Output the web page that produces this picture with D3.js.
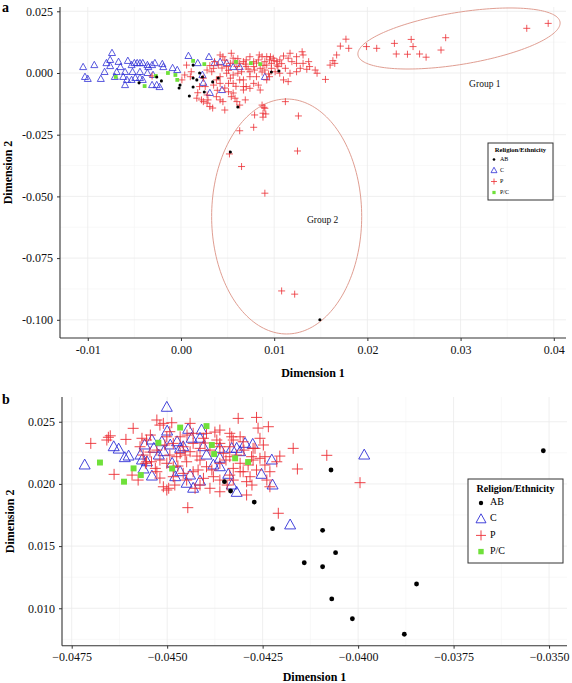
<!DOCTYPE html>
<html><head><meta charset="utf-8">
<script src="https://cdn.jsdelivr.net/npm/d3@7"></script>
<style>
body{margin:0;background:#fff;}
svg{display:block;}
text{font-family:"Liberation Serif","Times New Roman",serif;}
</style></head>
<body>
<svg id="chart" width="572" height="683"></svg>
<script>
// ---------- DATA ----------
const categories = ["AB","C","P","P/C"];

// Panel a
const aXTicks = [-0.01,0,0.01,0.02,0.03,0.04];
const aYTicks = [0.025,0,-0.025,-0.05,-0.075,-0.1];
const aAB = [[-0.0045,-0.0040],[-0.0026,-0.0016],[-0.0021,-0.0032],[-0.0001,-0.0049],[-0.0002,-0.0061],[0.0009,-0.0093],[0.0013,-0.0020],[0.0013,0.0032],[0.0013,-0.0057],[0.0017,-0.0028],[0.0020,0.0000],[0.0023,-0.0016],[0.0025,-0.0077],[0.0034,-0.0036],[0.0040,-0.0020],[0.0061,-0.0138],[0.0097,0.0004],[0.0105,0.0008],[0.0053,-0.0320],[0.0149,-0.1000]];
const aC = [[-0.0105,0.0024],[-0.0093,0.0032],[-0.0103,-0.0016],[-0.0100,-0.0024],[-0.0086,-0.0024],[-0.0082,0.0004],[-0.0080,0.0040],[-0.0076,0.0053],[-0.0074,0.0081],[-0.0076,0.0028],[-0.0067,0.0045],[-0.0065,0.0024],[-0.0057,0.0049],[-0.0053,0.0032],[-0.0050,0.0040],[-0.0047,0.0040],[-0.0044,0.0040],[-0.0041,0.0040],[-0.0036,0.0032],[-0.0035,0.0024],[-0.0031,0.0032],[-0.0028,0.0040],[-0.0020,0.0036],[-0.0019,0.0024],[-0.0062,-0.0016],[-0.0058,-0.0028],[-0.0053,-0.0028],[-0.0049,-0.0020],[-0.0044,-0.0020],[-0.0041,-0.0028],[-0.0060,-0.0049],[-0.0036,0.0000],[-0.0031,-0.0049],[-0.0026,-0.0049],[-0.0023,-0.0057],[-0.0030,-0.0008],[-0.0009,0.0020],[-0.0004,0.0012],[0.0008,0.0069],[0.0018,0.0040],[0.0030,0.0065],[0.0036,0.0040],[0.0042,0.0045],[0.0049,0.0040],[0.0056,0.0024],[0.0063,0.0024],[0.0044,-0.0069],[0.0031,-0.0081],[0.0090,-0.0016],[-0.0060,0.0004],[-0.0052,0.0004],[-0.0044,0.0004],[-0.0071,-0.0016],[-0.0069,0.0004],[0.0023,-0.0008],[0.0024,-0.0040]];
const aP = [[0.0177,0.0137],[0.0171,0.0109],[0.0180,0.0100],[0.0167,0.0073],[0.0163,0.0050],[0.0165,0.0039],[0.0160,0.0032],[0.0155,-0.0026],[0.0146,-0.0001],[0.0138,0.0026],[0.0137,0.0046],[0.0130,0.0086],[0.0131,0.0073],[0.0124,0.0066],[0.0117,0.0080],[0.0115,0.0060],[0.0110,0.0069],[0.0106,0.0053],[0.0103,0.0046],[0.0099,0.0060],[0.0095,0.0053],[0.0092,0.0066],[0.0090,0.0046],[0.0087,0.0066],[0.0083,0.0053],[0.0078,0.0046],[0.0074,0.0066],[0.0070,0.0053],[0.0067,0.0046],[0.0063,0.0039],[0.0060,0.0026],[0.0056,0.0060],[0.0054,0.0080],[0.0053,0.0039],[0.0049,0.0026],[0.0045,0.0066],[0.0042,0.0073],[0.0040,0.0032],[0.0036,0.0046],[0.0035,0.0019],[0.0033,0.0005],[0.0028,0.0012],[0.0024,-0.0021],[0.0026,-0.0055],[0.0029,-0.0109],[0.0038,-0.0096],[0.0045,-0.0116],[0.0047,-0.0150],[0.0051,-0.0076],[0.0054,-0.0096],[0.0058,-0.0102],[0.0060,-0.0116],[0.0063,-0.0130],[0.0067,-0.0069],[0.0070,-0.0055],[0.0074,-0.0062],[0.0078,-0.0042],[0.0083,-0.0049],[0.0085,-0.0069],[0.0092,-0.0028],[0.0095,-0.0015],[0.0101,0.0005],[0.0106,-0.0001],[0.0110,-0.0028],[0.0115,-0.0035],[0.0117,-0.0001],[0.0124,0.0005],[0.0128,0.0019],[0.0135,0.0015],[0.0144,0.0012],[0.0124,0.0039],[0.0131,0.0039],[0.0112,0.0019],[0.0104,0.0026],[0.0097,0.0019],[0.0090,0.0012],[0.0085,0.0019],[0.0079,0.0012],[0.0074,0.0005],[0.0070,0.0026],[0.0065,0.0005],[0.0061,-0.0001],[0.0056,-0.0008],[0.0053,-0.0021],[0.0049,-0.0001],[0.0042,-0.0015],[0.0038,-0.0028],[0.0035,-0.0049],[0.0028,-0.0089],[0.0022,-0.0109],[0.0074,-0.0015],[0.0081,-0.0015],[0.0078,0.0026],[0.0092,0.0032],[0.0097,0.0039],[0.0103,0.0032],[0.0063,-0.0028],[0.0056,-0.0042],[0.0051,-0.0042],[0.0067,-0.0028],[0.0042,-0.0042],[0.0112,-0.0116],[0.0090,-0.0143],[0.0088,-0.0163],[0.0087,-0.0130],[0.0069,-0.0109],[0.0006,0.0032],[0.0011,0.0005],[0.0017,-0.0102],[0.0024,-0.0116],[0.0028,-0.0122],[0.0031,-0.0136],[0.0034,-0.0142],[0.0042,-0.0109],[0.0020,-0.0055],[0.0018,-0.0080],[0.0004,-0.0008],[0.0001,-0.0028],[0.0010,-0.0015],[-0.0031,-0.0012],[0.0056,-0.0081],[0.0067,-0.0055],[0.0394,0.0201],[0.0371,0.0181],[0.0284,0.0143],[0.0279,0.0093],[0.0263,0.0064],[0.0256,0.0077],[0.0243,0.0076],[0.0231,0.0077],[0.0249,0.0107],[0.0247,0.0136],[0.0229,0.0120],[0.0210,0.0100],[0.0199,0.0107],[0.0089,-0.0139],[0.0079,-0.0170],[0.0091,-0.0166],[0.0088,-0.0179],[0.0078,-0.0220],[0.0063,-0.0234],[0.0126,-0.0174],[0.0125,-0.0316],[0.0052,-0.0328],[0.0065,-0.0379],[0.0090,-0.0487],[0.0108,-0.0883],[0.0122,-0.0896],[0.0047,0.0052],[0.0058,0.0044],[0.0069,0.0036],[0.0081,0.0040],[0.0088,0.0030],[0.0100,0.0050],[0.0108,0.0038],[0.0119,0.0046],[0.0096,0.0066],[0.0084,0.0073],[0.0061,0.0058],[0.0051,0.0011],[0.0044,0.0020],[0.0031,0.0030],[0.0072,0.0016],[0.0087,0.0004],[0.0094,-0.0004],[0.0059,-0.0054],[0.0047,-0.0061],[0.0039,-0.0070]];
const aPC = [[-0.0070,-0.0016],[-0.0039,-0.0053],[-0.0027,-0.0012],[-0.0014,0.0000],[-0.0006,-0.0008],[-0.0004,-0.0028],[0.0013,0.0049],[0.0025,0.0036],[0.0059,0.0045],[0.0075,0.0040],[0.0085,0.0036]];
// ellipses (data units): center, axis vectors
const group1 = {label:"Group 1", cx:0.02983, cy:0.01398, ux:0.01084, uy:0.00669, vx:0.00045, vy:-0.0104, tx:0.0326, ty:-0.0049};
const group2 = {label:"Group 2", cx:0.01134, cy:-0.05814, ux:0.00805, uy:0, vx:0, vy:0.0476, tx:0.0152, ty:-0.0600};

// Panel b
const bXTicks = [-0.0475,-0.045,-0.0425,-0.04,-0.0375,-0.035];
const bYTicks = [0.01,0.015,0.02,0.025];
const bAB = [[-0.03515,0.02267],[-0.04071,0.02112],[-0.04350,0.02018],[-0.04334,0.01943],[-0.04272,0.01854],[-0.04224,0.0164],[-0.04093,0.01627],[-0.04059,0.01447],[-0.04141,0.01366],[-0.04093,0.01334],[-0.03847,0.01195],[-0.04069,0.01075],[-0.04015,0.00916],[-0.03879,0.00791]];
const bC = [[-0.04716,0.02152],[-0.0464,0.02299],[-0.04627,0.0228],[-0.04611,0.02211],[-0.04601,0.02224],[-0.0457,0.02232],[-0.04566,0.02192],[-0.04559,0.02313],[-0.0454,0.02353],[-0.04535,0.02286],[-0.04514,0.02339],[-0.04509,0.02259],[-0.04522,0.02232],[-0.04492,0.02313],[-0.04474,0.02339],[-0.04466,0.02286],[-0.04501,0.02616],[-0.045,0.02425],[-0.0454,0.02063],[-0.04553,0.02178],[-0.04487,0.02166],[-0.04479,0.02058],[-0.04466,0.02098],[-0.04562,0.0212],[-0.04445,0.02439],[-0.0441,0.02433],[-0.04436,0.02367],[-0.04414,0.02367],[-0.04362,0.02286],[-0.04331,0.02286],[-0.04318,0.02286],[-0.04296,0.02326],[-0.04276,0.02318],[-0.04226,0.02192],[-0.04253,0.02077],[-0.04224,0.01991],[-0.04318,0.01932],[-0.04331,0.01991],[-0.0434,0.02077],[-0.04414,0.02023],[-0.04432,0.01965],[-0.0444,0.02071],[-0.04449,0.02005],[-0.04362,0.02138],[-0.04379,0.02152],[-0.04397,0.02232],[-0.04362,0.02206],[-0.04309,0.02259],[-0.04405,0.02299],[-0.04458,0.02299],[-0.03984,0.02232],[-0.04178,0.0167]];
const bP = [[-0.0470,0.02326],[-0.04654,0.02375],[-0.04658,0.02353],[-0.04608,0.02358],[-0.04589,0.02447],[-0.04639,0.02077],[-0.04576,0.02031],[-0.04446,0.01809],[-0.0451,0.02487],[-0.04488,0.02492],[-0.0444,0.02487],[-0.0451,0.01977],[-0.04501,0.01951],[-0.0448,0.01991],[-0.04427,0.01965],[-0.04388,0.01965],[-0.04362,0.01937],[-0.04314,0.02527],[-0.04266,0.02535],[-0.04235,0.0246],[-0.04362,0.02433],[-0.04336,0.02407],[-0.04309,0.02379],[-0.04209,0.01764],[-0.04205,0.02224],[-0.04239,0.02031],[-0.04283,0.02058],[-0.04288,0.02152],[-0.04309,0.02098],[-0.04336,0.02071],[-0.04414,0.02192],[-0.04449,0.02178],[-0.04475,0.02219],[-0.04519,0.02192],[-0.04527,0.02272],[-0.04563,0.02232],[-0.04554,0.02178],[-0.04527,0.02098],[-0.04484,0.02058],[-0.04458,0.02085],[-0.04432,0.02098],[-0.04397,0.02138],[-0.04362,0.02166],[-0.04327,0.02125],[-0.04275,0.02286],[-0.04301,0.02339],[-0.04336,0.02299],[-0.0437,0.02353],[-0.04405,0.02367],[-0.04432,0.02326],[-0.04458,0.02299],[-0.04484,0.02326],[-0.04501,0.02379],[-0.04466,0.02379],[-0.04432,0.02407],[-0.04397,0.02407],[-0.04519,0.02473],[-0.04493,0.0242],[-0.04554,0.02353],[-0.04571,0.02299],[-0.04541,0.02178],[-0.04388,0.02272],[-0.04353,0.02246],[-0.04318,0.02232],[-0.04275,0.02192],[-0.04257,0.02206],[-0.04244,0.02152],[-0.04266,0.02112],[-0.04292,0.02018],[-0.04362,0.02031],[-0.04379,0.02058],[-0.04405,0.02045],[-0.04449,0.02031],[-0.04484,0.02138],[-0.04501,0.02166],[-0.04466,0.02246],[-0.0444,0.02259],[-0.04414,0.02286],[-0.04362,0.02299],[-0.04327,0.02353],[-0.0417,0.02286],[-0.04159,0.0212],[-0.04082,0.0223],[-0.03995,0.0201],[-0.04231,0.01977],[-0.04213,0.02178],[-0.04248,0.02313],[-0.04257,0.02367],[-0.04327,0.02031],[-0.04309,0.02166],[-0.04336,0.02219],[-0.04362,0.02326],[-0.04331,0.02379],[-0.0427,0.02286],[-0.04279,0.02219],[-0.04301,0.02098],[-0.04231,0.02098],[-0.04244,0.02219],[-0.04649,0.02387],[-0.04527,0.02514],[-0.04496,0.01965],[-0.04557,0.02166],[-0.04592,0.02071],[-0.04531,0.02125],[-0.04566,0.02367],[-0.04544,0.02393],[-0.04414,0.01991],[-0.04292,0.01911],[-0.04506,0.02313],[-0.04448,0.02393],[-0.04422,0.02224],[-0.04383,0.02112],[-0.04346,0.02192],[-0.04299,0.02272],[-0.04472,0.02144],[-0.04519,0.02047],[-0.04401,0.02329],[-0.04375,0.02417],[-0.04453,0.02232],[-0.04262,0.02449],[-0.04278,0.01991],[-0.04343,0.01991],[-0.04419,0.02112],[-0.04493,0.02232],[-0.04545,0.02256]];
const bPC = [[-0.04676,0.02172],[-0.04613,0.02018],[-0.04588,0.02125],[-0.04569,0.02071],[-0.04523,0.02331],[-0.04466,0.02453],[-0.04397,0.02465],[-0.04377,0.0224],[-0.04322,0.02206],[-0.04288,0.02176],[-0.04487,0.02124],[-0.04383,0.02313]];

// ---------- DRAW ----------
const svg = d3.select("#chart");
const COL = {AB:"#000000", C:"#2f2fd6", P:"#ec2e34", "P/C":"#6fe03a"};
const hy = s => s.replace(/\u2212/g,"-");

function drawMarker(g, cat, x, y, s, sw){
  if(cat==="AB"){
    g.append("circle").attr("cx",x).attr("cy",y).attr("r",s*0.22).attr("fill",COL.AB);
  } else if(cat==="C"){
    const h = s*0.9, w = s*1.0;
    g.append("path").attr("d",`M${x},${y-h*0.6}L${x+w/2},${y+h*0.4}L${x-w/2},${y+h*0.4}Z`)
      .attr("fill","none").attr("stroke",COL.C).attr("stroke-width",sw);
  } else if(cat==="P"){
    const a = s*0.5;
    g.append("path").attr("d",`M${x-a},${y}H${x+a}M${x},${y-a}V${y+a}`)
      .attr("fill","none").attr("stroke",COL.P).attr("stroke-width",sw);
  } else {
    const a = s*0.27;
    g.append("rect").attr("x",x-a).attr("y",y-a).attr("width",2*a).attr("height",2*a).attr("fill",COL["P/C"]);
  }
}

function panel(cfg){
  const g = svg.append("g");
  const x = d3.scaleLinear().domain(cfg.xDom).range([cfg.left,cfg.right]);
  const y = d3.scaleLinear().domain(cfg.yDom).range([cfg.bottom,cfg.top]);
  // grid
  const grid = g.append("g");
  const xt = cfg.xTicks, yt = cfg.yTicks;
  const dx = xt[1]-xt[0];
  const xMinor = [], yMinor = [];
  for(let i=-1;i<=xt.length;i++){ const v = xt[0]+dx*(i+0.5); if(v>cfg.xDom[0]&&v<cfg.xDom[1]) xMinor.push(v); }
  const ys = yt.slice().sort((a,b)=>a-b), ddy = ys[1]-ys[0];
  for(let i=-1;i<=ys.length;i++){ const v = ys[0]+ddy*(i+0.5); if(v>cfg.yDom[0]&&v<cfg.yDom[1]) yMinor.push(v); }
  grid.selectAll(".vm").data(xMinor).join("line").attr("x1",d=>x(d)).attr("x2",d=>x(d)).attr("y1",cfg.top).attr("y2",cfg.bottom).attr("stroke","#f4f4f4").attr("stroke-width",0.6);
  grid.selectAll(".hm").data(yMinor).join("line").attr("y1",d=>y(d)).attr("y2",d=>y(d)).attr("x1",cfg.left).attr("x2",cfg.right).attr("stroke","#f4f4f4").attr("stroke-width",0.6);
  grid.selectAll(".vM").data(xt).join("line").attr("x1",d=>x(d)).attr("x2",d=>x(d)).attr("y1",cfg.top).attr("y2",cfg.bottom).attr("stroke","#ebebeb").attr("stroke-width",0.8);
  grid.selectAll(".hM").data(yt).join("line").attr("y1",d=>y(d)).attr("y2",d=>y(d)).attr("x1",cfg.left).attr("x2",cfg.right).attr("stroke","#ebebeb").attr("stroke-width",0.8);

  // ellipses
  (cfg.ellipses||[]).forEach(e=>{
    const ts = d3.range(0, 2*Math.PI+0.001, Math.PI/90);
    const line = d3.line().x(t=>x(e.cx+Math.cos(t)*e.ux+Math.sin(t)*e.vx)).y(t=>y(e.cy+Math.cos(t)*e.uy+Math.sin(t)*e.vy));
    g.append("path").attr("d",line(ts)).attr("fill","none").attr("stroke","#e09e92").attr("stroke-width",1);
    g.append("text").attr("x",x(e.tx)).attr("y",y(e.ty)).attr("text-anchor","middle").attr("dominant-baseline","middle")
      .attr("font-size",9.5).attr("fill","#111").text(e.label);
  });

  // points
  const pts = g.append("g");
  const series = [["C",cfg.C],["P",cfg.P],["P/C",cfg.PC],["AB",cfg.AB]];
  series.forEach(([cat,arr])=>{
    arr.forEach(d=>drawMarker(pts,cat,x(d[0]),y(d[1]),cfg.ms,cfg.sw));
  });

  // axes
  const xa = d3.axisBottom(x).tickValues(xt).tickSize(3).tickPadding(4).tickFormat(d=>cfg.xFmt(d));
  const ya = d3.axisLeft(y).tickValues(yt).tickSize(3).tickPadding(4).tickFormat(d=>cfg.yFmt(d));
  const gx = g.append("g").attr("transform",`translate(0,${cfg.bottom})`).call(xa);
  const gy = g.append("g").attr("transform",`translate(${cfg.left},0)`).call(ya);
  [gx,gy].forEach(ax=>{
    ax.select(".domain").remove();
    ax.selectAll("line").attr("stroke","#333");
    ax.selectAll("text").attr("font-family","Liberation Serif").attr("font-size",12).attr("fill","#111");
  });
  g.append("line").attr("x1",cfg.left).attr("x2",cfg.right).attr("y1",cfg.bottom).attr("y2",cfg.bottom).attr("stroke","#333").attr("stroke-width",1.1);
  g.append("line").attr("x1",cfg.left).attr("x2",cfg.left).attr("y1",cfg.top).attr("y2",cfg.bottom).attr("stroke","#333").attr("stroke-width",1.1);

  // titles
  g.append("text").attr("x",(cfg.left+cfg.right)/2).attr("y",cfg.xTitleY).attr("text-anchor","middle")
    .attr("font-weight","bold").attr("font-size",12).text("Dimension 1");
  g.append("text").attr("transform",`translate(${cfg.yTitleX},${(cfg.top+cfg.bottom)/2}) rotate(-90)`).attr("text-anchor","middle")
    .attr("font-weight","bold").attr("font-size",12).text("Dimension 2");
  g.append("text").attr("x",2).attr("y",cfg.tagY).attr("font-family","Liberation Sans, Arial, sans-serif")
    .attr("font-weight","bold").attr("font-size",14).text(cfg.tag);

  // legend
  const L = cfg.legend;
  const lg = g.append("g");
  lg.append("rect").attr("x",L.x).attr("y",L.y).attr("width",L.w).attr("height",L.h).attr("fill","#fff").attr("stroke","#333").attr("stroke-width",1);
  lg.append("text").attr("x",L.x+L.w/2).attr("y",L.y+L.titleDy).attr("text-anchor","middle").attr("font-weight","bold").attr("font-size",L.fs).text("Religion/Ethnicity");
  categories.forEach((c,i)=>{
    const yy = L.y+L.row0+i*L.rowH;
    drawMarker(lg,c,L.x+L.mx,yy,L.ms,L.sw);
    lg.append("text").attr("x",L.x+L.tx).attr("y",yy).attr("dominant-baseline","middle").attr("font-size",L.ifs).text(c);
  });
}

panel({
  tag:"a", tagY:12,
  left:60, right:566, top:7, bottom:338,
  xDom:[-0.01298,0.04131], yDom:[-0.10737,0.02674],
  xTicks:aXTicks, yTicks:aYTicks,
  xFmt:d=>hy(d3.format(".2f")(d)), yFmt:d=>hy(d3.format(".3f")(d)),
  AB:aAB, C:aC, P:aP, PC:aPC, ms:7, sw:0.8,
  ellipses:[group1,group2],
  xTitleY:377, yTitleX:12,
  legend:{x:488,y:143,w:65,h:57,titleDy:8.5,fs:6.6,ifs:6,row0:16.5,rowH:11,mx:6,tx:12,ms:6,sw:0.8}
});

panel({
  tag:"b", tagY:404,
  left:62, right:567, top:397, bottom:645.7,
  xDom:[-0.047754,-0.03453], yDom:[0.00699,0.02699],
  xTicks:bXTicks, yTicks:bYTicks,
  xFmt:d=>d3.format(".4f")(d), yFmt:d=>d3.format(".3f")(d),
  AB:bAB, C:bC, P:bP, PC:bPC, ms:11, sw:0.9,
  ellipses:[],
  xTitleY:681, yTitleX:14,
  legend:{x:468,y:479,w:95,h:84,titleDy:12.5,fs:10,ifs:10,row0:24,rowH:16.2,mx:13,tx:22,ms:10,sw:0.9}
});
</script>
</body></html>
